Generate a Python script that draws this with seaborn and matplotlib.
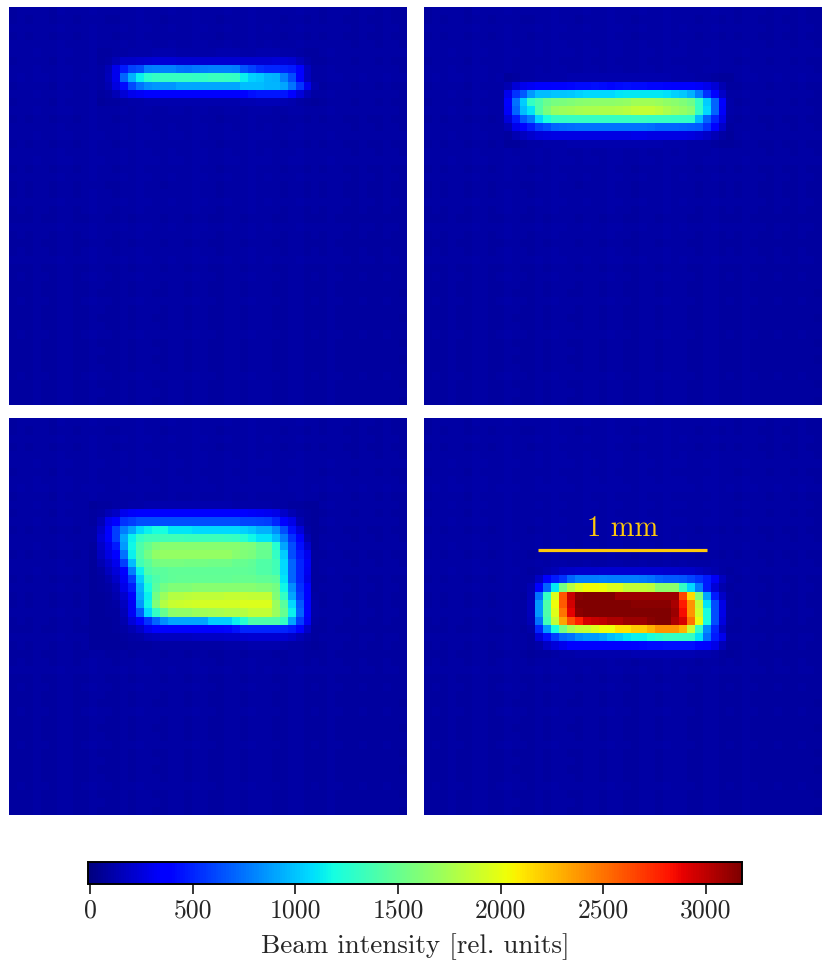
import numpy as np
import seaborn as sns
import matplotlib
matplotlib.use('Agg')
import matplotlib.pyplot as plt

# Colour scale
v_min = -10
v_max = 3175
bar_ticks = [0, 500, 1000, 1500, 2000, 2500, 3000]
bar_label = 'Beam intensity [rel. units]'
scale_text = '1 mm'
scale_cols = [14.3, 35.55]
scale_row = 15.95

# Faint background stripes, one value per column / per row
bg_cols = [78, 84, 80, 88, 84, 78, 92, 88, 80, 84, 94, 86, 82, 80, 90, 84, 96, 90, 86, 82,
           92, 88, 84, 96, 90, 84, 80, 92, 88, 84, 96, 88, 90, 84, 80, 88, 92, 80, 84, 78,
           88, 84, 80, 76, 84, 80, 76, 84, 78, 74]
bg_rows = [10, 6, 12, 8, 12, 16, 10, 14, 18, 10, 14, 10, 14, 8, 12, 16, 8, 12, 16, 8, 12, 6, 8, 12,
           8, 4, 12, 8, 4, 8, 12, 4, 8, 4, 2, 8, 4, 2, 4, 8, 2, 4, 2, 4, 8, 2, 4, 2]

# Beam spots, rows of intensity with their first row and first column in the grid
spot1_start = (5, 11)
spot1 = [
    [80, 85, 95, 100, 105, 110, 110, 115, 115, 115, 110, 110, 110, 110, 110, 115, 115, 115, 110, 110, 115, 115, 115, 110, 105, 95, 85, 80],
    [85, 100, 150, 190, 200, 210, 220, 230, 230, 230, 225, 220, 220, 220, 225, 225, 225, 225, 220, 215, 220, 225, 230, 230, 220, 160, 110, 85],
    [95, 150, 300, 470, 590, 630, 780, 790, 790, 790, 750, 740, 770, 780, 790, 790, 790, 780, 660, 590, 530, 510, 510, 500, 470, 350, 170, 95],
    [100, 160, 300, 700, 945, 1144, 1270, 1300, 1310, 1320, 1320, 1310, 1300, 1300, 1330, 1330, 1320, 1300, 1144, 1040, 1020, 950, 945, 790, 630, 350, 170, 100],
    [90, 130, 260, 420, 620, 750, 830, 860, 860, 860, 900, 900, 900, 900, 900, 900, 900, 900, 980, 980, 980, 950, 950, 900, 750, 550, 300, 120],
    [80, 95, 150, 230, 300, 320, 340, 340, 340, 340, 340, 340, 345, 345, 345, 345, 350, 370, 390, 430, 460, 460, 460, 460, 340, 240, 140, 90],
    [75, 80, 85, 95, 105, 110, 115, 115, 115, 115, 115, 115, 115, 115, 115, 115, 120, 125, 130, 135, 140, 140, 140, 135, 120, 100, 85, 75],
]

spot2_start = (8, 10)
spot2 = [
    [75, 85, 95, 100, 105, 110, 110, 110, 115, 120, 120, 120, 120, 120, 120, 125, 125, 120, 120, 115, 115, 110, 110, 105, 100, 95, 85, 75, 70],
    [130, 230, 300, 320, 350, 370, 390, 400, 410, 420, 420, 430, 425, 410, 420, 430, 425, 420, 410, 410, 400, 380, 380, 360, 330, 300, 230, 130, 80],
    [290, 547, 667, 866, 985, 985, 1000, 1010, 1020, 1040, 1060, 1060, 1060, 1070, 1100, 1110, 1110, 1110, 1110, 1110, 1090, 1040, 1020, 945, 786, 547, 350, 200, 95],
    [340, 746, 1025, 1300, 1400, 1520, 1560, 1580, 1600, 1620, 1640, 1650, 1650, 1650, 1660, 1680, 1720, 1720, 1720, 1700, 1660, 1640, 1600, 1540, 1300, 1025, 706, 340, 110],
    [330, 706, 985, 1104, 1400, 1580, 1690, 1710, 1730, 1750, 1760, 1760, 1770, 1780, 1790, 1810, 1850, 1860, 1860, 1830, 1760, 1710, 1680, 1620, 1300, 1065, 706, 330, 110],
    [250, 468, 667, 786, 1065, 1200, 1300, 1300, 1310, 1310, 1310, 1320, 1320, 1320, 1320, 1320, 1330, 1330, 1320, 1320, 1310, 1300, 1300, 1290, 985, 706, 507, 280, 95],
    [140, 290, 350, 468, 587, 627, 706, 720, 730, 740, 746, 746, 746, 746, 746, 746, 746, 746, 730, 710, 700, 700, 690, 680, 667, 547, 350, 190, 85],
    [85, 130, 170, 210, 240, 255, 265, 270, 270, 270, 270, 270, 270, 270, 270, 270, 280, 280, 270, 270, 270, 270, 265, 255, 230, 190, 140, 100, 75],
    [70, 75, 85, 90, 100, 105, 110, 110, 115, 115, 115, 115, 120, 120, 120, 120, 120, 120, 115, 115, 110, 110, 105, 100, 95, 90, 80, 75, 70],
]

spot3_start = (10, 10)
spot3 = [
    [75, 78, 85, 90, 100, 105, 110, 115, 115, 115, 115, 115, 115, 115, 115, 115, 115, 115, 110, 110, 110, 110, 105, 100, 90, 85, 78, 75, 72],
    [78, 100, 140, 180, 290, 330, 340, 340, 340, 340, 340, 340, 340, 340, 340, 340, 340, 340, 340, 340, 330, 320, 310, 280, 200, 130, 95, 78, 72],
    [85, 150, 300, 350, 547, 587, 627, 627, 627, 627, 627, 627, 627, 627, 627, 627, 627, 627, 627, 610, 600, 590, 587, 507, 350, 280, 130, 85, 72],
    [90, 200, 350, 587, 786, 905, 1065, 1144, 1190, 1190, 1104, 1104, 1104, 1065, 1065, 1065, 1065, 1065, 1065, 1040, 1000, 945, 945, 826, 627, 428, 240, 100, 72],
    [90, 230, 400, 587, 905, 1144, 1300, 1350, 1350, 1350, 1350, 1350, 1340, 1340, 1340, 1340, 1340, 1330, 1320, 1250, 1160, 1104, 1104, 985, 786, 547, 340, 130, 72],
    [85, 200, 300, 468, 866, 1160, 1400, 1500, 1590, 1620, 1620, 1620, 1620, 1620, 1620, 1620, 1620, 1620, 1620, 1600, 1590, 1500, 1500, 1250, 905, 627, 428, 210, 75],
    [75, 170, 270, 350, 746, 1144, 1400, 1550, 1660, 1670, 1670, 1670, 1670, 1670, 1670, 1670, 1670, 1670, 1630, 1600, 1580, 1500, 1500, 1300, 1025, 627, 468, 300, 85],
    [75, 130, 210, 300, 587, 985, 1350, 1450, 1550, 1560, 1560, 1560, 1550, 1550, 1550, 1540, 1540, 1540, 1500, 1500, 1480, 1420, 1420, 1350, 1065, 706, 507, 320, 85],
    [75, 100, 170, 250, 350, 786, 1144, 1400, 1450, 1450, 1480, 1480, 1480, 1480, 1480, 1480, 1480, 1480, 1480, 1480, 1460, 1420, 1420, 1350, 1065, 706, 507, 310, 80],
    [75, 85, 120, 190, 320, 587, 1025, 1300, 1400, 1450, 1480, 1490, 1490, 1490, 1490, 1490, 1490, 1490, 1500, 1500, 1500, 1480, 1480, 1450, 1104, 706, 507, 280, 80],
    [75, 80, 95, 150, 280, 468, 945, 1200, 1450, 1550, 1600, 1600, 1600, 1620, 1620, 1620, 1620, 1620, 1620, 1620, 1620, 1600, 1600, 1550, 1160, 826, 547, 340, 85],
    [72, 75, 85, 120, 210, 350, 905, 1144, 1550, 1700, 1800, 1800, 1820, 1840, 1840, 1840, 1840, 1860, 1860, 1860, 1850, 1850, 1850, 1600, 1300, 905, 587, 350, 100],
    [72, 72, 80, 100, 170, 320, 866, 1160, 1600, 1800, 1870, 1890, 1900, 1910, 1920, 1930, 1930, 1930, 1930, 1950, 1950, 1950, 1950, 1700, 1450, 1065, 667, 350, 110],
    [72, 72, 78, 88, 150, 320, 667, 1065, 1300, 1500, 1650, 1660, 1660, 1700, 1720, 1740, 1750, 1780, 1780, 1800, 1850, 1850, 1850, 1700, 1500, 1144, 706, 350, 110],
    [72, 72, 75, 85, 120, 250, 350, 547, 706, 826, 905, 905, 905, 905, 905, 1025, 1025, 1025, 1144, 1250, 1400, 1400, 1400, 1400, 1300, 905, 587, 320, 100],
    [72, 72, 72, 80, 95, 130, 200, 300, 340, 350, 350, 350, 350, 360, 370, 380, 390, 410, 440, 507, 507, 507, 507, 507, 507, 468, 350, 200, 85],
    [72, 72, 72, 75, 80, 90, 110, 140, 160, 165, 170, 175, 175, 180, 180, 185, 185, 190, 200, 210, 220, 220, 220, 220, 215, 190, 150, 105, 78],
    [72, 72, 72, 72, 75, 78, 80, 85, 90, 90, 90, 95, 95, 95, 100, 100, 100, 105, 105, 110, 115, 115, 115, 115, 110, 100, 90, 80, 72],
]

spot4_start = (18, 13)
spot4 = [
    [78, 95, 125, 150, 180, 195, 205, 210, 210, 215, 215, 215, 215, 215, 215, 215, 215, 210, 210, 200, 190, 170, 150, 120, 90, 78],
    [95, 180, 350, 468, 547, 706, 786, 786, 786, 790, 786, 786, 786, 786, 770, 740, 690, 667, 667, 650, 600, 547, 468, 320, 170, 90],
    [130, 340, 706, 1110, 1550, 1800, 1950, 2040, 2040, 2030, 1950, 1950, 1850, 1850, 1850, 1820, 1650, 1650, 1650, 1300, 1065, 786, 468, 230, 120, 80],
    [150, 746, 1300, 1950, 2600, 2970, 3150, 3170, 3170, 3170, 3170, 3100, 3100, 3100, 3100, 3100, 3100, 3100, 3100, 2650, 2150, 1600, 905, 468, 190, 90],
    [160, 866, 1400, 2030, 2580, 2940, 3170, 3170, 3170, 3170, 3170, 3170, 3170, 3150, 3150, 3150, 3150, 3150, 3060, 2790, 2380, 1850, 1104, 627, 280, 100],
    [160, 866, 1400, 1960, 2500, 2900, 3150, 3170, 3170, 3170, 3170, 3170, 3170, 3170, 3170, 3170, 3170, 3170, 3100, 2850, 2380, 1900, 1200, 627, 280, 100],
    [145, 746, 1350, 1850, 2340, 2620, 2780, 2930, 2970, 3000, 3050, 3050, 3100, 3100, 3100, 3150, 3170, 3170, 3050, 2930, 2500, 2000, 1200, 627, 260, 90],
    [110, 507, 866, 1200, 1550, 1750, 1850, 1880, 1950, 2030, 2030, 2120, 2120, 2200, 2200, 2280, 2380, 2380, 2380, 2290, 1870, 1300, 826, 507, 180, 85],
    [85, 250, 428, 587, 706, 746, 826, 866, 866, 905, 985, 1025, 1104, 1144, 1144, 1200, 1250, 1300, 1300, 1300, 1300, 1104, 746, 468, 300, 90],
    [78, 110, 180, 240, 300, 340, 345, 350, 350, 350, 350, 350, 370, 390, 410, 420, 425, 428, 428, 428, 428, 400, 350, 280, 150, 80],
    [75, 78, 85, 95, 105, 110, 115, 120, 120, 120, 120, 120, 125, 130, 130, 130, 130, 130, 130, 130, 130, 125, 120, 105, 85, 75],
]

spots = [(spot1_start, spot1), (spot2_start, spot2), (spot3_start, spot3), (spot4_start, spot4)]

sns.set_theme(style='white')
plt.rcParams['font.family'] = ['cmr10', 'DejaVu Serif']
plt.rcParams['axes.formatter.use_mathtext'] = True

W, H = 830, 963
fig = plt.figure(figsize=(W / 100, H / 100), dpi=100)


def pixel_axes(x0, y0, x1, y1):
    # axes from pixel box, y counted from the top
    return fig.add_axes([x0 / W, 1 - y1 / H, (x1 - x0) / W, (y1 - y0) / H])


boxes = [(9, 7, 407, 405), (424, 7, 822, 405), (9, 418, 407, 815), (424, 418, 822, 815)]
cax = pixel_axes(88, 862, 742, 884)

for i, (box, (start, rows)) in enumerate(zip(boxes, spots)):
    ax = pixel_axes(*box)
    grid = np.add.outer(bg_rows, bg_cols).astype(float)
    rows = np.array(rows, dtype=float)
    r0, c0 = start
    grid[r0:r0 + rows.shape[0], c0:c0 + rows.shape[1]] = rows
    sns.heatmap(grid, ax=ax, cmap='jet', vmin=v_min, vmax=v_max,
                xticklabels=False, yticklabels=False, square=False,
                cbar=i == 3, cbar_ax=cax if i == 3 else None,
                cbar_kws={'orientation': 'horizontal', 'ticks': bar_ticks})
    ax.tick_params(left=False, bottom=False)

# Scale bar on the last panel
ax.plot(scale_cols, [scale_row, scale_row], color='#FFC80A', lw=2.3, solid_capstyle='butt')
ax.text(sum(scale_cols) / 2, scale_row - 1.0, scale_text, color='#FFC80A', fontsize=20.5,
        ha='center', va='bottom')

cax.set_xticklabels([str(t) for t in bar_ticks])
cax.tick_params(axis='x', bottom=True, length=7, width=1.1, color='black', labelsize=18.5, pad=3.5)
cax.set_xlabel(bar_label, fontsize=19.5, labelpad=8)
for s in cax.spines.values():
    s.set_visible(True)
    s.set_linewidth(1.2)
    s.set_color('black')

fig.savefig('out.png', dpi=100)
